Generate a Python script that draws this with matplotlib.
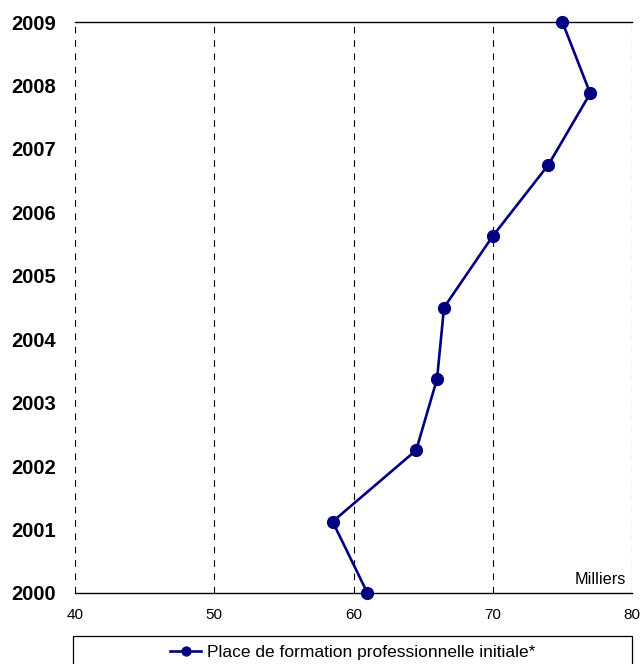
import numpy as np
import matplotlib
matplotlib.use('Agg')
import matplotlib.pyplot as plt
import matplotlib.patches as patches

plt.rcParams['font.family'] = ['Liberation Sans', 'DejaVu Sans']

# places de formation professionnelle initiale, en milliers (de bas en haut)
years = ['2000', '2001', '2002', '2003', '2004', '2005', '2006', '2007', '2008', '2009']
values = [61.0, 58.5, 64.5, 66.0, 66.5, 70.0, 74.0, 77.0, 75.0]
x_ticks = [40, 50, 60, 70, 80]
series_name = 'Place de formation professionnelle initiale*'

W, H = 642, 664
fig = plt.figure(figsize=(W / 100, H / 100), dpi=100)
ax = fig.add_axes([75 / W, 1 - 593 / H, (632 - 75) / W, (593 - 22) / H])

pos = np.arange(len(values))
line, = ax.plot(values, pos, color='#000080', lw=1.9, marker='o', ms=8.5,
                clip_on=False, zorder=3, label=series_name)

ax.set_xlim(40, 80)
ax.set_ylim(0, len(values) - 1)
ax.set_xticks(x_ticks)
ax.set_xticklabels([str(v) for v in x_ticks], fontsize=11)
ax.set_yticks(np.linspace(0, len(values) - 1, len(years)))
ax.set_yticklabels(years, fontsize=14.5, fontweight='bold')
ax.tick_params(length=0)
ax.tick_params(axis='x', pad=11)
ax.tick_params(axis='y', pad=14)

for xv in x_ticks:
    ax.axvline(xv, color='black', lw=0.8, ls=(0, (6, 6)), zorder=1)
for side in ['left', 'right']:
    ax.spines[side].set_visible(False)
for side in ['top', 'bottom']:
    ax.spines[side].set_linewidth(1.0)

ax.text(0.989, 0.011, 'Milliers', transform=ax.transAxes, ha='right', va='bottom', fontsize=11.7)

# cadre de la légende sous le graphique
box = patches.Rectangle((73 / W, -0.05), (632 - 73) / W, 0.05 + (H - 636) / H,
                        transform=fig.transFigure, facecolor='white', edgecolor='black', lw=0.9)
fig.patches.append(box)
fig.legend(handles=[line], loc='center', bbox_to_anchor=(353 / W, 1 - 652 / H),
           frameon=False, fontsize=12.5, handlelength=1.8, handletextpad=0.35,
           markerscale=0.75, borderpad=0)

fig.savefig('out.png', dpi=100)
